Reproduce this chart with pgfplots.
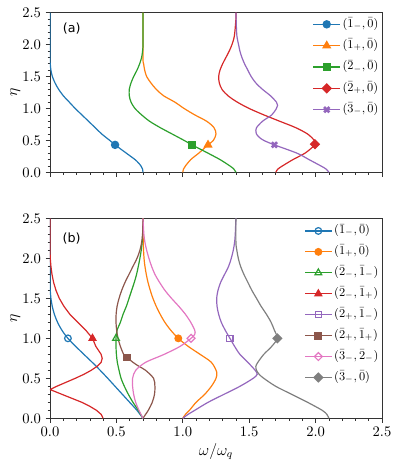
\documentclass[border=0pt]{standalone}
\usepackage{fontspec}
\usepackage{pgfplots}
\pgfplotsset{compat=1.18}
\newfontfamily\dejavu{DejaVu Sans}

\definecolor{C0}{HTML}{1F77B4}
\definecolor{C1}{HTML}{FF7F0E}
\definecolor{C2}{HTML}{2CA02C}
\definecolor{C3}{HTML}{D62728}
\definecolor{C4}{HTML}{9467BD}
\definecolor{C5}{HTML}{8C564B}
\definecolor{C6}{HTML}{E377C2}
\definecolor{C7}{HTML}{7F7F7F}

\pgfplotsset{
  panel/.style={
    scale only axis, width=249pt,
    xmin=0, xmax=2.5, ymin=0, ymax=2.5,
    xtick={0,0.5,1,1.5,2,2.5}, ytick={0,0.5,1,1.5,2,2.5},
    minor x tick num=4, minor y tick num=4,
    tick align=outside, xtick pos=bottom, ytick pos=left,
    major tick length=3.2pt, minor tick length=1.8pt,
    axis line style={black!80, line width=0.6pt},
    tick style={black!80, line width=0.5pt},
    tick label style={font=\fontsize{10.5}{12}\selectfont},
    xticklabel style={/pgf/number format/.cd, fixed, fixed zerofill, precision=1},
    yticklabel style={/pgf/number format/.cd, fixed, fixed zerofill, precision=1},
    ylabel={$\eta$},
    ylabel style={at={(axis description cs:-0.105,0.5)}, anchor=center},
    label style={font=\fontsize{12}{14}\selectfont},
    legend cell align=left,
    legend image code/.code={
      \draw[mark repeat=2, mark phase=2] plot coordinates {(0cm,0cm) (0.35cm,0cm) (0.7cm,0cm)};
    },
    every axis plot/.append style={line width=0.9pt},
  },
}

\begin{document}
\begin{tikzpicture}
\useasboundingbox (0,0) rectangle (299.25pt,348.75pt);

% panel (a)
\begin{axis}[panel, at={(37.5pt,219.5pt)}, anchor=south west, height=119.7pt,
  xticklabels={},
  legend style={draw=none, fill=none, at={(1.008,1.0)}, anchor=north east,
    font=\fontsize{9.2}{10}\selectfont, row sep=3pt,
    nodes={inner sep=1.5pt, text height=7pt, text depth=3pt}},
]
\addplot[C0, smooth, forget plot] coordinates {
  (0.70,0) (0.697,0.05) (0.685,0.1) (0.665,0.15) (0.64,0.2) (0.575,0.3) (0.49,0.43)
  (0.45,0.5) (0.39,0.6) (0.34,0.7) (0.29,0.8) (0.24,0.9) (0.19,1.0) (0.145,1.1)
  (0.10,1.2) (0.065,1.3) (0.038,1.4) (0.018,1.5) (0.007,1.6) (0.002,1.7) (0,1.8) (0,2.5)
};
\addplot[C0, mark=*, mark size=2.7pt] coordinates {(0.49,0.43)};
\addlegendentry{$(\bar{1}_-,\bar{0})$}

\addplot[C1, smooth, forget plot] coordinates {
  (1.00,0) (1.005,0.05) (1.02,0.1) (1.06,0.2) (1.12,0.3) (1.19,0.43) (1.23,0.5)
  (1.25,0.6) (1.235,0.7) (1.18,0.8) (1.09,0.9) (1.01,1.0) (0.94,1.1) (0.855,1.2)
  (0.80,1.3) (0.76,1.4) (0.728,1.5) (0.713,1.6) (0.705,1.7) (0.70,1.8) (0.70,2.5)
};
\addplot[C1, mark=triangle*, mark size=3.1pt] coordinates {(1.19,0.43)};
\addlegendentry{$(\bar{1}_+,\bar{0})$}

\addplot[C2, smooth, forget plot] coordinates {
  (1.40,0) (1.385,0.05) (1.355,0.1) (1.28,0.2) (1.19,0.3) (1.07,0.43) (1.01,0.5)
  (0.92,0.6) (0.83,0.7) (0.75,0.8) (0.69,0.9) (0.64,1.0) (0.61,1.1) (0.597,1.2)
  (0.597,1.3) (0.61,1.4) (0.63,1.5) (0.655,1.6) (0.675,1.7) (0.69,1.8) (0.697,1.9)
  (0.70,2.0) (0.70,2.5)
};
\addplot[C2, mark=square*, mark size=2.5pt] coordinates {(1.07,0.43)};
\addlegendentry{$(\bar{2}_-,\bar{0})$}

\addplot[C3, smooth, forget plot] coordinates {
  (1.70,0) (1.715,0.05) (1.75,0.1) (1.83,0.2) (1.92,0.3) (1.98,0.4) (1.995,0.44)
  (1.99,0.5) (1.94,0.6) (1.85,0.7) (1.73,0.8) (1.61,0.9) (1.50,1.0) (1.41,1.1)
  (1.34,1.2) (1.295,1.3) (1.275,1.4) (1.27,1.5) (1.28,1.6) (1.30,1.7) (1.325,1.8)
  (1.35,1.9) (1.37,2.0) (1.385,2.1) (1.392,2.2) (1.40,2.4) (1.40,2.5)
};
\addplot[C3, mark=square*, mark size=2.3pt, mark options={rotate=45}] coordinates {(1.995,0.44)};
\addlegendentry{$(\bar{2}_+,\bar{0})$}

\addplot[C4, smooth, forget plot] coordinates {
  (2.10,0) (2.08,0.05) (2.04,0.1) (1.95,0.2) (1.86,0.3) (1.69,0.43) (1.61,0.5)
  (1.575,0.55) (1.555,0.6) (1.55,0.66) (1.555,0.7) (1.60,0.8) (1.67,0.9) (1.705,1.0)
  (1.714,1.05) (1.705,1.1) (1.66,1.2) (1.60,1.3) (1.55,1.4) (1.515,1.5) (1.49,1.6)
  (1.465,1.7) (1.445,1.8) (1.43,1.9) (1.42,2.0) (1.41,2.1) (1.405,2.2) (1.40,2.5)
};
\addplot[C4, mark=x, mark size=2.8pt, mark options={line width=2pt}] coordinates {(1.69,0.43)};
\addlegendentry{$(\bar{3}_-,\bar{0})$}

\node[font=\dejavu\fontsize{9.5}{11}\selectfont] at (axis cs:0.163,2.25) {(a)};
\end{axis}

% panel (b)
\begin{axis}[panel, at={(37.5pt,35pt)}, anchor=south west, height=150pt,
  xlabel={$\omega/\omega_q$},
  xlabel style={at={(axis description cs:0.5,-0.167)}, anchor=center},
  legend style={draw=none, fill=none, at={(1.008,0.995)}, anchor=north east,
    font=\fontsize{9.2}{10}\selectfont, row sep=2.7pt,
    nodes={inner sep=1.5pt, text height=7pt, text depth=3pt}},
]
\addplot[C0, smooth, forget plot] coordinates {
  (0.70,0) (0.655,0.1) (0.60,0.2) (0.545,0.3) (0.49,0.4) (0.435,0.5) (0.378,0.6)
  (0.318,0.7) (0.255,0.8) (0.193,0.9) (0.135,1.0) (0.09,1.1) (0.057,1.2) (0.033,1.3)
  (0.017,1.4) (0.007,1.5) (0.002,1.6) (0,1.7) (0,2.5)
};
\addplot[C0, mark=o, mark size=2.5pt] coordinates {(0.135,1.0)};
\addlegendentry{$(\bar{1}_-,\bar{0})$}

\addplot[C1, smooth, forget plot] coordinates {
  (1.00,0) (1.02,0.05) (1.05,0.1) (1.10,0.2) (1.165,0.3) (1.215,0.4) (1.25,0.5)
  (1.255,0.58) (1.215,0.7) (1.13,0.8) (1.04,0.9) (0.966,1.0) (0.91,1.1) (0.865,1.2)
  (0.83,1.3) (0.80,1.4) (0.775,1.5) (0.755,1.6) (0.738,1.7) (0.725,1.8) (0.715,1.9)
  (0.708,2.0) (0.702,2.2) (0.70,2.5)
};
\addplot[C1, mark=*, mark size=2.5pt] coordinates {(0.966,1.0)};
\addlegendentry{$(\bar{1}_+,\bar{0})$}

\addplot[C2, smooth, forget plot] coordinates {
  (0.70,0) (0.665,0.1) (0.625,0.2) (0.59,0.3) (0.56,0.4) (0.535,0.5) (0.52,0.6)
  (0.507,0.7) (0.50,0.8) (0.497,0.9) (0.497,1.0) (0.505,1.1) (0.53,1.2) (0.55,1.3)
  (0.575,1.4) (0.595,1.5) (0.615,1.6) (0.635,1.7) (0.652,1.8) (0.665,1.9) (0.677,2.0)
  (0.687,2.1) (0.694,2.2) (0.698,2.3) (0.70,2.5)
};
\addplot[C2, mark=triangle, mark size=2.9pt] coordinates {(0.497,1.0)};
\addlegendentry{$(\bar{2}_-,\bar{1}_-)$}

\addplot[C3, forget plot] coordinates {
  (0.40,0) (0.385,0.05) (0.35,0.1) (0.30,0.15) (0.24,0.2) (0.165,0.25) (0.09,0.3)
  (0.0,0.36) (0.05,0.4) (0.12,0.45) (0.19,0.5) (0.255,0.55) (0.31,0.6) (0.355,0.65)
  (0.385,0.7) (0.393,0.75) (0.385,0.8) (0.365,0.85) (0.345,0.9) (0.32,1.0) (0.27,1.1)
  (0.21,1.2) (0.15,1.3) (0.105,1.4) (0.07,1.5) (0.045,1.6) (0.027,1.7) (0.015,1.8)
  (0.007,1.9) (0.002,2.0) (0,2.1) (0,2.5)
};
\addplot[C3, mark=triangle*, mark size=2.9pt] coordinates {(0.32,1.0)};
\addlegendentry{$(\bar{2}_-,\bar{1}_+)$}

\addplot[C4, smooth, forget plot] coordinates {
  (1.00,0) (1.04,0.05) (1.09,0.1) (1.19,0.2) (1.31,0.3) (1.43,0.4) (1.53,0.5)
  (1.56,0.55) (1.545,0.6) (1.49,0.7) (1.43,0.8) (1.39,0.9) (1.355,1.0) (1.32,1.1)
  (1.29,1.2) (1.27,1.3) (1.258,1.4) (1.255,1.5) (1.265,1.6) (1.285,1.7) (1.315,1.8)
  (1.345,1.9) (1.365,2.0) (1.38,2.1) (1.39,2.2) (1.395,2.3) (1.40,2.5)
};
\addplot[C4, mark=square, mark size=2.3pt] coordinates {(1.355,1.0)};
\addlegendentry{$(\bar{2}_+,\bar{1}_-)$}

\addplot[C5, smooth, forget plot] coordinates {
  (0.70,0) (0.72,0.05) (0.74,0.1) (0.77,0.2) (0.787,0.3) (0.79,0.4) (0.78,0.5)
  (0.72,0.6) (0.67,0.65) (0.625,0.7) (0.58,0.76) (0.555,0.8) (0.53,0.9) (0.512,1.0)
  (0.502,1.1) (0.497,1.2) (0.498,1.3) (0.505,1.4) (0.52,1.5) (0.54,1.6) (0.565,1.7)
  (0.595,1.8) (0.625,1.9) (0.655,2.0) (0.677,2.1) (0.69,2.2) (0.697,2.3) (0.70,2.5)
};
\addplot[C5, mark=square*, mark size=2.5pt] coordinates {(0.58,0.76)};
\addlegendentry{$(\bar{2}_+,\bar{1}_+)$}

\addplot[C6, smooth, forget plot] coordinates {
  (0.70,0) (0.685,0.05) (0.67,0.1) (0.645,0.2) (0.63,0.3) (0.622,0.4) (0.622,0.5)
  (0.645,0.6) (0.72,0.7) (0.86,0.8) (0.98,0.9) (1.062,1.0) (1.09,1.05) (1.09,1.1)
  (1.06,1.2) (1.02,1.3) (0.97,1.4) (0.915,1.5) (0.865,1.6) (0.825,1.7) (0.79,1.8)
  (0.765,1.9) (0.745,2.0) (0.728,2.1) (0.715,2.2) (0.707,2.3) (0.70,2.5)
};
\addplot[C6, mark=square, mark size=2.1pt, mark options={rotate=45}] coordinates {(1.062,1.0)};
\addlegendentry{$(\bar{3}_-,\bar{2}_-)$}

\addplot[C7, smooth, forget plot] coordinates {
  (2.10,0) (2.085,0.05) (2.05,0.1) (1.94,0.2) (1.82,0.3) (1.70,0.4) (1.61,0.5)
  (1.575,0.55) (1.555,0.6) (1.55,0.65) (1.565,0.7) (1.61,0.8) (1.67,0.9) (1.712,1.0)
  (1.69,1.1) (1.665,1.2) (1.63,1.3) (1.59,1.4) (1.555,1.5) (1.52,1.6) (1.49,1.7)
  (1.46,1.8) (1.435,1.9) (1.418,2.0) (1.407,2.1) (1.40,2.2) (1.40,2.5)
};
\addplot[C7, mark=square*, mark size=2.3pt, mark options={rotate=45}] coordinates {(1.712,1.0)};
\addlegendentry{$(\bar{3}_-,\bar{0})$}

\node[font=\dejavu\fontsize{9.5}{11}\selectfont] at (axis cs:0.163,2.25) {(b)};
\end{axis}
\end{tikzpicture}
\end{document}
